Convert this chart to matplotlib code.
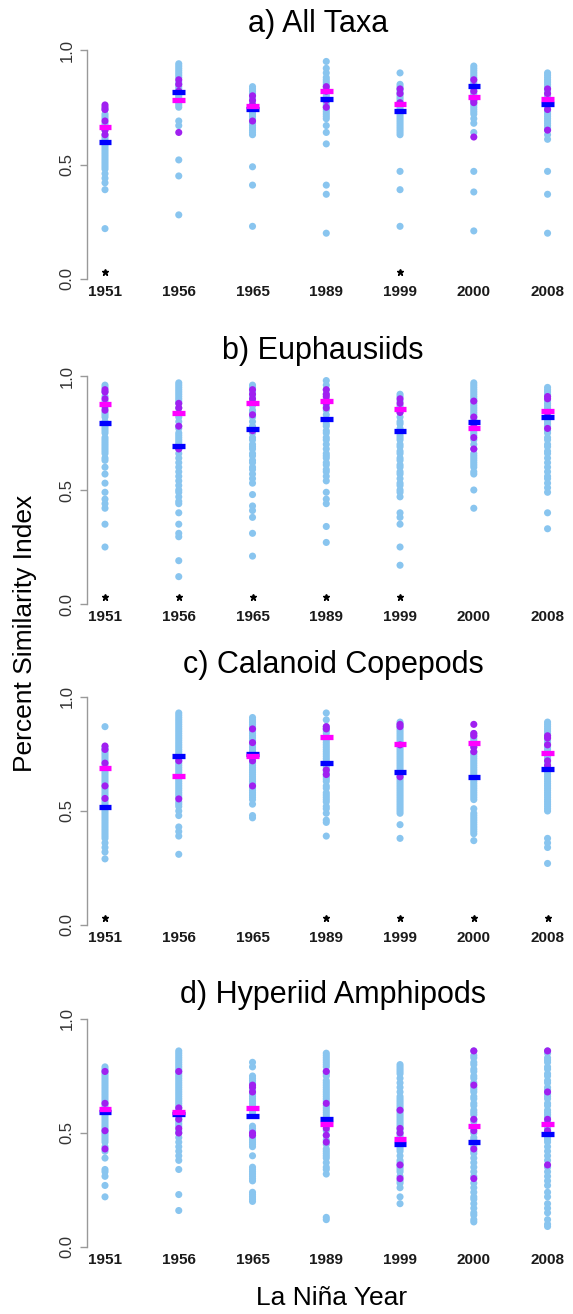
import matplotlib
matplotlib.use("Agg")
import matplotlib.pyplot as plt

plt.rcParams["font.family"] = ["Liberation Sans", "DejaVu Sans"]

years = ["1951", "1956", "1965", "1989", "1999", "2000", "2008"]
titles = ["a) All Taxa", "b) Euphausiids", "c) Calanoid Copepods", "d) Hyperiid Amphipods"]

# ---- a) All Taxa ----
allTaxa_blue = [
    [0.74, 0.72, 0.71, 0.70, 0.68, 0.67, 0.66, 0.65, 0.63, 0.62, 0.61, 0.60, 0.59, 0.58, 0.57, 0.56, 0.55,
     0.54, 0.53, 0.52, 0.51, 0.50, 0.49, 0.48, 0.46, 0.44, 0.42, 0.39, 0.22],
    [0.94, 0.93, 0.92, 0.91, 0.90, 0.89, 0.88, 0.86, 0.85, 0.84, 0.83, 0.82, 0.81, 0.80, 0.79, 0.78, 0.77,
     0.76, 0.75, 0.69, 0.67, 0.52, 0.45, 0.28],
    [0.84, 0.83, 0.82, 0.81, 0.80, 0.79, 0.78, 0.77, 0.76, 0.75, 0.74, 0.73, 0.72, 0.71, 0.70, 0.69, 0.68,
     0.67, 0.66, 0.65, 0.64, 0.63, 0.49, 0.41, 0.23],
    [0.95, 0.92, 0.90, 0.88, 0.87, 0.86, 0.85, 0.84, 0.83, 0.82, 0.81, 0.80, 0.79, 0.78, 0.77, 0.76, 0.75,
     0.74, 0.73, 0.72, 0.71, 0.70, 0.67, 0.64, 0.59, 0.41, 0.37, 0.20],
    [0.90, 0.85, 0.84, 0.83, 0.82, 0.81, 0.80, 0.79, 0.78, 0.77, 0.76, 0.75, 0.74, 0.73, 0.72, 0.71, 0.70,
     0.69, 0.68, 0.67, 0.66, 0.65, 0.64, 0.63, 0.47, 0.39, 0.23],
    [0.93, 0.92, 0.91, 0.90, 0.89, 0.88, 0.87, 0.86, 0.85, 0.84, 0.83, 0.82, 0.81, 0.80, 0.79, 0.78, 0.77,
     0.76, 0.75, 0.74, 0.73, 0.72, 0.70, 0.68, 0.64, 0.47, 0.38, 0.21],
    [0.90, 0.89, 0.88, 0.87, 0.86, 0.85, 0.84, 0.83, 0.82, 0.81, 0.80, 0.79, 0.78, 0.77, 0.76, 0.75, 0.74,
     0.73, 0.72, 0.71, 0.70, 0.69, 0.68, 0.67, 0.66, 0.65, 0.63, 0.61, 0.47, 0.37, 0.20],
]
allTaxa_purple = [
    [0.76, 0.75, 0.74, 0.69, 0.65, 0.63],
    [0.87, 0.85, 0.82, 0.64],
    [0.80, 0.78, 0.76, 0.69],
    [0.84, 0.82, 0.78, 0.75],
    [0.83, 0.81, 0.77],
    [0.87, 0.84, 0.82, 0.78, 0.77, 0.62],
    [0.83, 0.81, 0.74, 0.65],
]
allTaxa_mean_all = [0.60, 0.815, 0.742, 0.787, 0.734, 0.844, 0.764]
allTaxa_mean_lanina = [0.665, 0.78, 0.755, 0.822, 0.763, 0.796, 0.786]
allTaxa_sig = [True, False, False, False, True, False, False]

# ---- b) Euphausiids ----
euph_blue = [
    [0.96, 0.95, 0.93, 0.91, 0.89, 0.88, 0.86, 0.84, 0.83, 0.82, 0.80, 0.78, 0.77, 0.76, 0.75, 0.73, 0.72,
     0.71, 0.70, 0.69, 0.68, 0.67, 0.66, 0.64, 0.63, 0.60, 0.57, 0.53, 0.49, 0.46, 0.44, 0.42, 0.35, 0.25],
    [0.97, 0.96, 0.95, 0.94, 0.93, 0.92, 0.91, 0.90, 0.89, 0.88, 0.86, 0.84, 0.82, 0.80, 0.78, 0.77, 0.75,
     0.74, 0.73, 0.72, 0.71, 0.70, 0.68, 0.66, 0.64, 0.62, 0.60, 0.58, 0.56, 0.54, 0.52, 0.50, 0.49, 0.47,
     0.45, 0.44, 0.40, 0.35, 0.31, 0.295, 0.19, 0.12],
    [0.96, 0.95, 0.93, 0.91, 0.89, 0.87, 0.85, 0.84, 0.82, 0.80, 0.78, 0.77, 0.75, 0.73, 0.72, 0.70, 0.69,
     0.68, 0.66, 0.65, 0.63, 0.62, 0.60, 0.59, 0.57, 0.55, 0.53, 0.48, 0.43, 0.41, 0.38, 0.31, 0.21],
    [0.98, 0.96, 0.94, 0.92, 0.90, 0.87, 0.85, 0.83, 0.81, 0.79, 0.78, 0.76, 0.75, 0.73, 0.72, 0.70, 0.68,
     0.66, 0.65, 0.64, 0.62, 0.61, 0.59, 0.58, 0.56, 0.54, 0.49, 0.46, 0.44, 0.34, 0.27],
    [0.92, 0.91, 0.89, 0.87, 0.86, 0.84, 0.82, 0.80, 0.79, 0.77, 0.76, 0.74, 0.73, 0.72, 0.70, 0.69, 0.67,
     0.66, 0.64, 0.63, 0.61, 0.60, 0.58, 0.57, 0.55, 0.53, 0.52, 0.50, 0.49, 0.47, 0.40, 0.38, 0.35, 0.25,
     0.17],
    [0.97, 0.96, 0.95, 0.94, 0.93, 0.92, 0.91, 0.90, 0.89, 0.88, 0.87, 0.86, 0.85, 0.84, 0.83, 0.82, 0.81,
     0.80, 0.79, 0.78, 0.76, 0.75, 0.74, 0.72, 0.70, 0.68, 0.66, 0.65, 0.64, 0.63, 0.62, 0.61, 0.60, 0.58,
     0.57, 0.50, 0.42],
    [0.95, 0.94, 0.93, 0.92, 0.91, 0.89, 0.88, 0.87, 0.86, 0.85, 0.83, 0.82, 0.81, 0.80, 0.79, 0.78, 0.76,
     0.75, 0.73, 0.72, 0.70, 0.69, 0.67, 0.66, 0.64, 0.62, 0.60, 0.58, 0.56, 0.55, 0.53, 0.51, 0.49, 0.40,
     0.33],
]
euph_purple = [
    [0.94, 0.93, 0.90, 0.87, 0.85],
    [0.88, 0.86, 0.78, 0.68],
    [0.94, 0.92, 0.90, 0.83, 0.76],
    [0.94, 0.92, 0.91, 0.88, 0.86],
    [0.90, 0.88, 0.85, 0.84],
    [0.89, 0.82, 0.79, 0.73, 0.68],
    [0.91, 0.90, 0.84, 0.77],
]
euph_mean_all = [0.792, 0.693, 0.766, 0.81, 0.757, 0.798, 0.822]
euph_mean_lanina = [0.876, 0.836, 0.88, 0.89, 0.855, 0.772, 0.848]
euph_sig = [True, True, True, True, True, False, False]

# ---- c) Calanoid Copepods ----
cal_blue = [
    [0.87, 0.78, 0.77, 0.76, 0.75, 0.74, 0.73, 0.72, 0.71, 0.70, 0.69, 0.68, 0.67, 0.66, 0.65, 0.64, 0.63,
     0.62, 0.61, 0.60, 0.59, 0.58, 0.57, 0.56, 0.55, 0.54, 0.53, 0.52, 0.51, 0.50, 0.49, 0.48, 0.47, 0.46,
     0.45, 0.44, 0.43, 0.42, 0.41, 0.40, 0.39, 0.38, 0.36, 0.34, 0.32, 0.29],
    [0.93, 0.92, 0.91, 0.90, 0.89, 0.88, 0.87, 0.86, 0.85, 0.84, 0.83, 0.82, 0.81, 0.80, 0.79, 0.78, 0.77,
     0.76, 0.75, 0.74, 0.73, 0.72, 0.71, 0.70, 0.69, 0.68, 0.67, 0.66, 0.65, 0.64, 0.63, 0.62, 0.61, 0.60,
     0.59, 0.58, 0.57, 0.56, 0.54, 0.53, 0.52, 0.50, 0.48, 0.43, 0.41, 0.39, 0.31],
    [0.91, 0.90, 0.89, 0.88, 0.87, 0.86, 0.85, 0.84, 0.83, 0.82, 0.81, 0.80, 0.79, 0.78, 0.77, 0.76, 0.75,
     0.74, 0.73, 0.72, 0.71, 0.70, 0.69, 0.68, 0.67, 0.66, 0.65, 0.64, 0.63, 0.62, 0.61, 0.60, 0.59, 0.58,
     0.57, 0.56, 0.55, 0.53, 0.48, 0.47],
    [0.93, 0.90, 0.87, 0.86, 0.85, 0.84, 0.82, 0.81, 0.80, 0.79, 0.78, 0.77, 0.76, 0.75, 0.74, 0.73, 0.72,
     0.71, 0.70, 0.69, 0.68, 0.67, 0.66, 0.65, 0.64, 0.63, 0.61, 0.60, 0.58, 0.57, 0.56, 0.55, 0.54, 0.52,
     0.51, 0.49, 0.46, 0.45, 0.39],
    [0.89, 0.88, 0.87, 0.86, 0.85, 0.84, 0.83, 0.82, 0.81, 0.80, 0.79, 0.78, 0.77, 0.76, 0.75, 0.74, 0.73,
     0.72, 0.71, 0.70, 0.69, 0.68, 0.67, 0.66, 0.65, 0.64, 0.63, 0.62, 0.61, 0.60, 0.59, 0.58, 0.57, 0.56,
     0.55, 0.54, 0.53, 0.52, 0.51, 0.50, 0.49, 0.44, 0.38],
    [0.84, 0.83, 0.82, 0.81, 0.80, 0.79, 0.78, 0.76, 0.75, 0.74, 0.73, 0.72, 0.71, 0.70, 0.69, 0.68, 0.67,
     0.66, 0.65, 0.64, 0.63, 0.62, 0.61, 0.60, 0.59, 0.58, 0.57, 0.56, 0.55, 0.51, 0.49, 0.48, 0.47, 0.46,
     0.45, 0.44, 0.43, 0.42, 0.41, 0.40, 0.37],
    [0.89, 0.88, 0.87, 0.86, 0.85, 0.84, 0.83, 0.82, 0.81, 0.80, 0.79, 0.78, 0.77, 0.76, 0.75, 0.74, 0.73,
     0.72, 0.71, 0.70, 0.69, 0.68, 0.67, 0.66, 0.65, 0.64, 0.63, 0.62, 0.61, 0.60, 0.59, 0.58, 0.57, 0.56,
     0.55, 0.54, 0.53, 0.52, 0.51, 0.50, 0.38, 0.36, 0.34, 0.27],
]
cal_purple = [
    [0.785, 0.77, 0.71, 0.61, 0.555],
    [0.72, 0.553],
    [0.86, 0.80, 0.72, 0.61],
    [0.87, 0.86, 0.68, 0.66],
    [0.88, 0.87, 0.79, 0.65],
    [0.88, 0.84, 0.83, 0.78, 0.76],
    [0.83, 0.82, 0.79, 0.72, 0.70],
]
cal_mean_all = [0.519, 0.741, 0.749, 0.712, 0.673, 0.648, 0.683]
cal_mean_lanina = [0.687, 0.653, 0.743, 0.826, 0.794, 0.797, 0.756]
cal_sig = [True, False, False, True, True, True, True]

# ---- d) Hyperiid Amphipods ----
hyp_blue = [
    [0.79, 0.78, 0.77, 0.76, 0.75, 0.74, 0.73, 0.72, 0.71, 0.70, 0.69, 0.68, 0.67, 0.66, 0.65, 0.64, 0.63,
     0.62, 0.61, 0.60, 0.59, 0.58, 0.57, 0.56, 0.55, 0.54, 0.53, 0.52, 0.51, 0.50, 0.49, 0.48, 0.47, 0.46,
     0.44, 0.42, 0.39, 0.34, 0.33, 0.31, 0.27, 0.22],
    [0.86, 0.85, 0.84, 0.83, 0.82, 0.81, 0.80, 0.79, 0.78, 0.77, 0.76, 0.75, 0.74, 0.73, 0.72, 0.71, 0.70,
     0.69, 0.68, 0.67, 0.66, 0.65, 0.64, 0.63, 0.62, 0.61, 0.60, 0.58, 0.57, 0.56, 0.55, 0.54, 0.53, 0.51,
     0.50, 0.48, 0.46, 0.44, 0.42, 0.40, 0.38, 0.34, 0.23, 0.16],
    [0.81, 0.79, 0.75, 0.74, 0.73, 0.72, 0.71, 0.70, 0.69, 0.68, 0.67, 0.66, 0.65, 0.64, 0.63, 0.62, 0.61,
     0.60, 0.59, 0.53, 0.52, 0.51, 0.49, 0.48, 0.47, 0.46, 0.45, 0.44, 0.40, 0.35, 0.34, 0.33, 0.32, 0.31,
     0.30, 0.29, 0.24, 0.23, 0.22, 0.21, 0.20],
    [0.85, 0.84, 0.83, 0.82, 0.81, 0.80, 0.79, 0.77, 0.76, 0.75, 0.73, 0.72, 0.71, 0.70, 0.69, 0.68, 0.67,
     0.66, 0.65, 0.64, 0.62, 0.61, 0.60, 0.59, 0.58, 0.57, 0.55, 0.53, 0.51, 0.49, 0.47, 0.45, 0.43, 0.42,
     0.41, 0.40, 0.39, 0.37, 0.35, 0.34, 0.32, 0.13, 0.12],
    [0.80, 0.79, 0.78, 0.77, 0.76, 0.74, 0.72, 0.70, 0.68, 0.66, 0.65, 0.64, 0.63, 0.62, 0.61, 0.60, 0.59,
     0.58, 0.57, 0.56, 0.55, 0.54, 0.53, 0.52, 0.51, 0.50, 0.49, 0.48, 0.46, 0.45, 0.44, 0.43, 0.42, 0.40,
     0.38, 0.37, 0.36, 0.35, 0.34, 0.33, 0.31, 0.29, 0.28, 0.26, 0.22, 0.19],
    [0.86, 0.84, 0.83, 0.81, 0.80, 0.78, 0.77, 0.75, 0.74, 0.72, 0.70, 0.69, 0.68, 0.66, 0.65, 0.63, 0.62,
     0.60, 0.59, 0.58, 0.56, 0.55, 0.53, 0.52, 0.50, 0.48, 0.47, 0.45, 0.44, 0.42, 0.41, 0.39, 0.37, 0.35,
     0.33, 0.31, 0.28, 0.26, 0.24, 0.22, 0.21, 0.19, 0.17, 0.15, 0.14, 0.12, 0.11],
    [0.86, 0.85, 0.83, 0.82, 0.81, 0.79, 0.78, 0.76, 0.75, 0.73, 0.72, 0.70, 0.69, 0.67, 0.66, 0.65, 0.63,
     0.62, 0.60, 0.59, 0.58, 0.57, 0.55, 0.54, 0.53, 0.52, 0.51, 0.50, 0.48, 0.47, 0.46, 0.44, 0.42, 0.40,
     0.38, 0.35, 0.33, 0.31, 0.29, 0.27, 0.24, 0.22, 0.19, 0.17, 0.15, 0.12, 0.10, 0.09],
]
hyp_purple = [
    [0.77, 0.63, 0.51, 0.43],
    [0.77, 0.61, 0.56, 0.52, 0.50],
    [0.71, 0.70, 0.68, 0.50, 0.49],
    [0.77, 0.63, 0.52, 0.49, 0.46],
    [0.60, 0.52, 0.50, 0.36, 0.30],
    [0.86, 0.71, 0.56, 0.51, 0.43, 0.30],
    [0.86, 0.68, 0.56, 0.51, 0.36],
]
hyp_mean_all = [0.594, 0.585, 0.575, 0.561, 0.45, 0.459, 0.496]
hyp_mean_lanina = [0.604, 0.59, 0.608, 0.54, 0.474, 0.532, 0.538]
hyp_sig = [False] * 7

panels = [
    (allTaxa_blue, allTaxa_purple, allTaxa_mean_all, allTaxa_mean_lanina, allTaxa_sig),
    (euph_blue, euph_purple, euph_mean_all, euph_mean_lanina, euph_sig),
    (cal_blue, cal_purple, cal_mean_all, cal_mean_lanina, cal_sig),
    (hyp_blue, hyp_purple, hyp_mean_all, hyp_mean_lanina, hyp_sig),
]

W, H = 573, 1314
fig = plt.figure(figsize=(W / 100, H / 100), dpi=100)

# pixel rows of y=0 and y=1 for each panel
zero_px = [279, 604, 925, 1247]
one_px = [50, 376, 697, 1019]
title_base_px = [32, 359, 673, 1003]
title_cx_px = [318, 323, 333, 333]
x_left_px, x_right_px = 87, 566

for k, (blue, purple, m_all, m_ln, sig) in enumerate(panels):
    ax = fig.add_axes([x_left_px / W, 1 - zero_px[k] / H,
                       (x_right_px - x_left_px) / W, (zero_px[k] - one_px[k]) / H])
    ax.set_xlim(0.756, 7.25)
    ax.set_ylim(0, 1)
    for i in range(len(years)):
        xpos = i + 1
        ax.scatter([xpos] * len(blue[i]), blue[i], s=26, color="#89C5EF", edgecolors="none", zorder=2)
        ax.scatter([xpos] * len(purple[i]), purple[i], s=26, color="#A020F0", edgecolors="none", zorder=3)
        ax.plot([xpos - 0.085, xpos + 0.085], [m_all[i], m_all[i]], color="#0000FF", lw=3.8,
                solid_capstyle="butt", zorder=4)
        ax.plot([xpos - 0.085, xpos + 0.085], [m_ln[i], m_ln[i]], color="#FF00FF", lw=3.8,
                solid_capstyle="butt", zorder=5)
        if sig[i]:
            ax.plot(xpos, 0.03, marker="*", color="black", markersize=4.5, zorder=5)

    for side in ["top", "right", "bottom"]:
        ax.spines[side].set_visible(False)
    ax.spines["left"].set_color("#999999")
    ax.spines["left"].set_linewidth(1.0)
    ax.set_yticks([0.0, 0.5, 1.0])
    ax.set_yticklabels(["0.0", "0.5", "1.0"], rotation=90, va="center", fontsize=12, color="#333333")
    ax.tick_params(axis="y", length=5, width=1.0, color="#999999", pad=4)
    ax.set_xticks(range(1, 8))
    ax.set_xticklabels(years, fontsize=11, fontweight="bold", color="#1a1a1a")
    ax.tick_params(axis="x", length=0, pad=4)

    fig.text(title_cx_px[k] / W, 1 - title_base_px[k] / H, titles[k], fontsize=22,
             ha="center", va="baseline")

fig.text(25 / W, 1 - 633 / H, "Percent Similarity Index", rotation=90, fontsize=19,
         ha="center", va="center")
fig.text(332 / W, 1 - 1305 / H, "La Niña Year", fontsize=19, ha="center", va="baseline")

fig.savefig("out.png", dpi=100)
